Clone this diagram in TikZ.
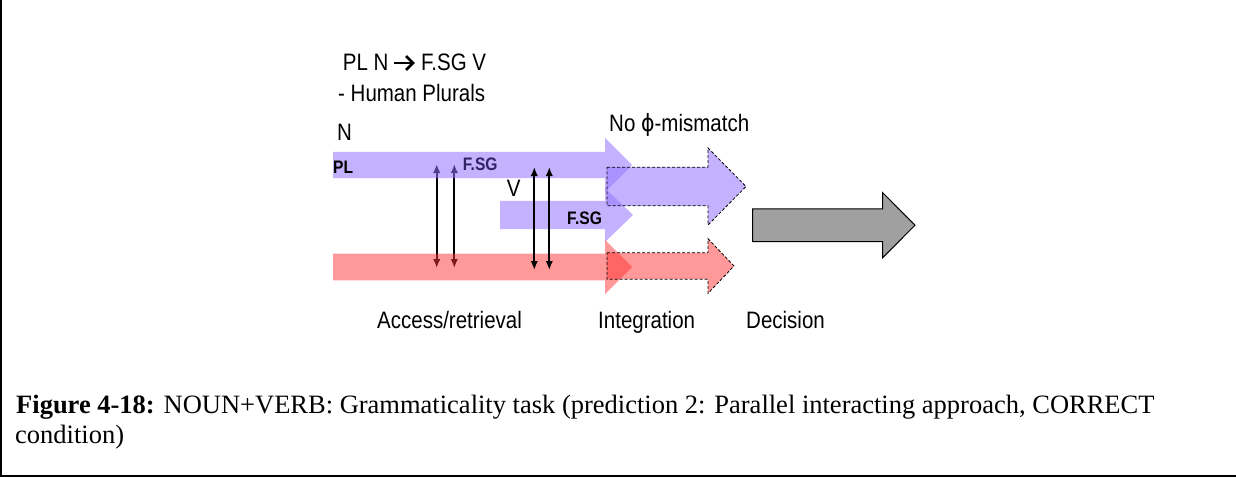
\documentclass[tikz,border=0pt]{standalone}
\usepackage{fontspec}
\setmainfont{Liberation Sans}
\newfontfamily\capfont{Liberation Serif}
\newfontfamily\symfont{DejaVu Sans}
\usetikzlibrary{arrows.meta}

\definecolor{bandviolet}{RGB}{150,115,255}
\definecolor{bandred}{RGB}{255,50,50}
\definecolor{decgray}{RGB}{160,160,160}
\definecolor{tintlabel}{RGB}{48,36,100}

% block arrow: left x, head base x, tip x, centre y, body half height, head half height
\newcommand\blockarrow[7][]{%
  \path[#1] (#2,#5-#6) -- (#3,#5-#6) -- (#3,#5-#7) -- (#4,#5)
    -- (#3,#5+#7) -- (#3,#5+#6) -- (#2,#5+#6) -- cycle;}

\tikzset{
  band/.style={fill=bandviolet, fill opacity=0.55},
  redband/.style={fill=bandred, fill opacity=0.5},
  pending/.style={draw=black, line width=0.8pt, dash pattern=on 3pt off 2pt},
  link/.style={line width=2pt, {Latex[length=9pt,width=7.5pt]}-{Latex[length=9pt,width=7.5pt]}},
  lbl/.style={inner sep=0pt, anchor=base west, yscale=1.16, font=\fontsize{20.5}{24}\selectfont},
  tag/.style={inner sep=0pt, anchor=base west, yscale=1.16, font=\fontsize{15.6}{18}\selectfont\bfseries},
  captext/.style={inner sep=0pt, anchor=base west, font=\fontsize{26.5}{30}\selectfont\capfont},
  bold arrow/.style={line width=2.8pt, line join=miter},
}

\begin{document}
\begin{tikzpicture}[x=1pt, y=-1pt]
\useasboundingbox (0,0) rectangle (1236,477);

% frame
\draw[line width=2pt] (1,0) -- (1,476) -- (1236,476);

% end points of the access links
\coordinate (a1t) at (436.7,164); \coordinate (a1b) at (436.7,268);
\coordinate (a2t) at (454.3,164); \coordinate (a2b) at (454.3,268);
\coordinate (b1t) at (534.3,167); \coordinate (b1b) at (534.3,270);
\coordinate (b2t) at (549.3,167); \coordinate (b2b) at (549.3,270);

% links behind the bands
\draw[link] (a1t) -- (a1b);
\draw[link] (a2t) -- (a2b);

% access bands
\blockarrow[band]{333}{605}{632}{165}{13.2}{27}
\blockarrow[band]{500}{605}{633}{215}{14.2}{27}
\blockarrow[redband]{333}{605}{632}{267}{13.3}{27}

% integration stage
\blockarrow[band]{607}{708}{746}{186.5}{19.3}{38.5}
\blockarrow[pending]{607}{708}{746}{186.5}{19.3}{38.5}
\blockarrow[redband]{607}{708}{734}{266}{13.2}{27.3}
\blockarrow[pending]{607}{708}{734}{266}{13.2}{27.3}

% links in front of the bands
\draw[link] (b1t) -- (b1b);
\draw[link] (b2t) -- (b2b);

% decision stage
\blockarrow[fill=decgray, draw=black, line width=1pt]{752.7}{882.7}{915}{225.2}{16.3}{32.5}

% agreement rule: PL N -> F.SG V
\node[lbl] (ruleN) at (342.7,70.7) {PL N};
\node[lbl] (ruleV) at (421,70.7) {F.SG V};
\coordinate (rs) at (394,63);
\coordinate (re) at (413,63);
\draw[bold arrow] (rs) -- (re);
\draw[bold arrow] ([shift={(-7,-7)}]re) -- (re) -- ([shift={(-7,7)}]re);

% labels
\node[lbl] (hum) at (338,101.7) {- Human Plurals};
\node[lbl] (nlab) at (337,140) {N};
\node[tag] (pl) at (333,173.3) {PL};
\node[tag, text=tintlabel] (fsg1) at (462.7,170) {F.SG};
\node[lbl] (vlab) at (506.7,196) {V};
\node[tag] (fsg2) at (567,224.3) {F.SG};
\node[lbl] (nomis) at (609,131.7) {No {\symfont ϕ}-mismatch};
\node[lbl] (acc) at (377,328) {Access/retrieval};
\node[lbl] (integ) at (598,328) {Integration};
\node[lbl] (dec) at (746,328) {Decision};

% caption
\node[captext] (cap1) at (16,413) {\textbf{Figure 4-18:} NOUN+VERB: Grammaticality task (prediction 2: Parallel interacting approach, CORRECT};
\node[captext] (cap2) at (15,443) {condition)};
\end{tikzpicture}
\end{document}
